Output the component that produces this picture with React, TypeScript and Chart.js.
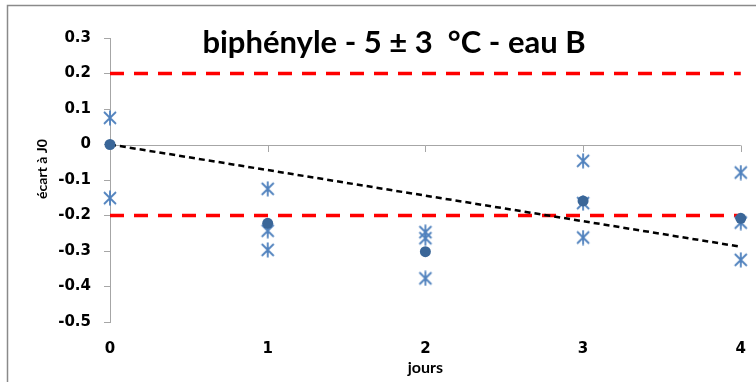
import React, { useEffect, useRef } from "react";
import { Chart, registerables } from "chart.js";

Chart.register(...registerables);

// ---- data ----
const days = [0, 1, 2, 3, 4];
const rep1 = [0.075, -0.125, -0.247, -0.046, -0.079];
const rep2 = [-0.151, -0.243, -0.264, -0.165, -0.22];
const rep3 = [null, -0.297, -0.377, -0.262, -0.325];
const means = [0, -0.222, -0.302, -0.159, -0.208];
const trendDays = [0, 4];
const trendValues = [0, -0.288];
const limitDays = [0, 4];
const upperLimit = 0.2;
const lowerLimit = -0.2;
const yMin = -0.5;
const yMax = 0.3;
const yStep = 0.1;
const xMin = 0;
const xMax = 4;
const chartTitle = "biphényle - 5 ± 3  °C - eau B";
const yTitle = "écart à J0";
const xTitle = "jours";

const FONT = "Lato, 'Open Sans', sans-serif";
const TICK_FONT = "'DejaVu Sans', sans-serif";
const AXIS_GREY = "#A6A6A6";

function pts(xs: number[], ys: (number | null)[]) {
  return xs.map((x, i) => ({ x, y: ys[i] as number })).filter((p) => p.y !== null);
}

export default function App() {
  const ref = useRef<HTMLCanvasElement>(null);

  useEffect(() => {
    const canvas = ref.current;
    if (!canvas) return;

    // asterisk marker (X + vertical bar)
    const star = document.createElement("canvas");
    star.width = 16;
    star.height = 16;
    const sc = star.getContext("2d")!;
    sc.strokeStyle = "#4F81BD";
    sc.lineWidth = 1.8;
    sc.beginPath();
    sc.moveTo(2, 2);
    sc.lineTo(14, 14);
    sc.moveTo(14, 2);
    sc.lineTo(2, 14);
    sc.moveTo(8, 0.5);
    sc.lineTo(8, 15.5);
    sc.stroke();

    const decor = {
      id: "decor",
      beforeDatasetsDraw(chart: any) {
        const { ctx, chartArea, scales } = chart;
        const y0 = Math.round(scales.y.getPixelForValue(0)) + 0.5;
        ctx.save();
        ctx.strokeStyle = AXIS_GREY;
        ctx.lineWidth = 1;
        ctx.beginPath();
        ctx.moveTo(chartArea.left, y0);
        ctx.lineTo(chartArea.right, y0);
        for (const d of days) {
          const x = Math.round(scales.x.getPixelForValue(d)) + 0.5;
          ctx.moveTo(x, y0);
          ctx.lineTo(x, y0 + 6.5);
        }
        ctx.stroke();
        ctx.restore();
      },
      afterDraw(chart: any) {
        const { ctx, chartArea } = chart;
        ctx.save();
        // frame
        ctx.strokeStyle = "#8A8A8A";
        ctx.lineWidth = 1.5;
        ctx.beginPath();
        ctx.moveTo(7.5, 400);
        ctx.lineTo(7.5, 5.5);
        ctx.lineTo(800, 5.5);
        ctx.stroke();
        // title
        ctx.fillStyle = "#000";
        ctx.font = `bold 31px ${FONT}`;
        ctx.textAlign = "center";
        ctx.textBaseline = "alphabetic";
        ctx.fillText(chartTitle, 394, 53);
        // x title
        ctx.font = `bold 16px ${FONT}`;
        ctx.fillText(xTitle, (chartArea.left + chartArea.right) / 2, 373);
        // y title
        ctx.translate(47, 169);
        ctx.rotate(-Math.PI / 2);
        ctx.font = `bold 14px ${FONT}`;
        ctx.fillText(yTitle, 0, 0);
        ctx.restore();
      },
    };

    const chart = new Chart(canvas, {
      type: "scatter",
      data: {
        datasets: [
          {
            label: "moyenne",
            data: pts(days, means),
            pointStyle: "circle",
            pointRadius: 5.5,
            backgroundColor: "#3A6698",
            borderColor: "#3A6698",
            borderWidth: 0,
            order: 0,
            clip: false,
          },
          {
            label: "réplicat 1",
            data: pts(days, rep1),
            pointStyle: star,
            order: 1,
            clip: false,
          },
          {
            label: "réplicat 2",
            data: pts(days, rep2),
            pointStyle: star,
            order: 1,
            clip: false,
          },
          {
            label: "réplicat 3",
            data: pts(days, rep3),
            pointStyle: star,
            order: 1,
            clip: false,
          },
          {
            label: "tendance",
            data: pts(trendDays, trendValues),
            showLine: true,
            borderColor: "#000000",
            borderWidth: 2.5,
            borderDash: [6, 4],
            pointRadius: 0,
            order: 2,
            clip: false,
          },
          {
            label: "limite haute",
            data: pts(limitDays, [upperLimit, upperLimit]),
            showLine: true,
            borderColor: "#FF0000",
            borderWidth: 3.5,
            borderDash: [14, 10],
            pointRadius: 0,
            order: 3,
            clip: false,
          },
          {
            label: "limite basse",
            data: pts(limitDays, [lowerLimit, lowerLimit]),
            showLine: true,
            borderColor: "#FF0000",
            borderWidth: 3.5,
            borderDash: [14, 10],
            pointRadius: 0,
            order: 3,
            clip: false,
          },
        ],
      },
      options: {
        responsive: false,
        animation: false,
        events: [],
        layout: { padding: { top: 38, right: 15, left: 0, bottom: 0 } },
        plugins: {
          legend: { display: false },
          tooltip: { enabled: false },
          title: { display: false },
        },
        scales: {
          x: {
            type: "linear",
            min: xMin,
            max: xMax,
            grid: { display: false },
            border: { display: false },
            ticks: {
              stepSize: 1,
              color: "#000",
              font: { family: TICK_FONT, size: 15, weight: "bold" },
              padding: 10,
            },
            afterFit: (s: any) => {
              s.height = 60;
            },
          },
          y: {
            min: yMin,
            max: yMax,
            grid: {
              drawOnChartArea: false,
              drawTicks: true,
              tickLength: 6,
              color: AXIS_GREY,
            },
            border: { display: true, color: AXIS_GREY, width: 1 },
            ticks: {
              stepSize: yStep,
              color: "#000",
              font: { family: TICK_FONT, size: 15, weight: "bold" },
              padding: 13,
              callback: (v: any) => {
                const n = Number(Number(v).toFixed(1));
                return n === 0 ? "0" : String(n);
              },
            },
            afterFit: (s: any) => {
              s.width = 110;
            },
          },
        },
      },
      plugins: [decor],
    } as any);

    return () => chart.destroy();
  }, []);

  return (
    <div style={{ position: "fixed", left: 0, top: 0, width: 756, height: 382, background: "#fff" }}>
      <canvas ref={ref} width={756} height={382} style={{ width: 756, height: 382, display: "block" }} />
    </div>
  );
}
